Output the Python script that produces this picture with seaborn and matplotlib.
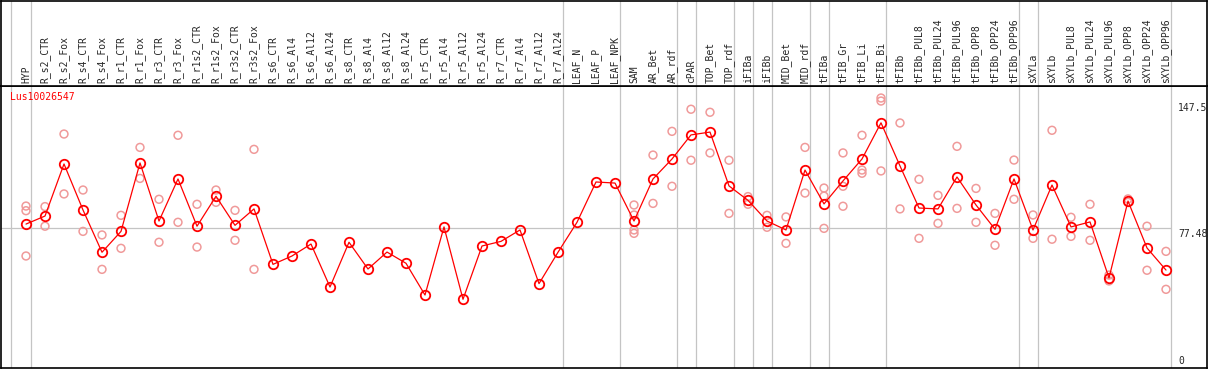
import numpy as np
import pandas as pd
import matplotlib
matplotlib.use("Agg")
import matplotlib.pyplot as plt
import seaborn as sns

gene = "Lus10026547"

categories = [
    "HYP", "R_s2_CTR", "R_s2_Fox", "R_s4_CTR", "R_s4_Fox", "R_r1_CTR", "R_r1_Fox",
    "R_r3_CTR", "R_r3_Fox", "R_r1s2_CTR", "R_r1s2_Fox", "R_r3s2_CTR", "R_r3s2_Fox",
    "R_s6_CTR", "R_s6_Al4", "R_s6_Al12", "R_s6_Al24", "R_s8_CTR", "R_s8_Al4",
    "R_s8_Al12", "R_s8_Al24", "R_r5_CTR", "R_r5_Al4", "R_r5_Al12", "R_r5_Al24",
    "R_r7_CTR", "R_r7_Al4", "R_r7_Al12", "R_r7_Al24", "LEAF_N", "LEAF_P", "LEAF_NPK",
    "SAM", "AR_Bet", "AR_rdf", "cPAR", "TOP_Bet", "TOP_rdf", "iFIBa", "iFIBb",
    "MID_Bet", "MID_rdf", "tFIBa", "tFIB_Gr", "tFIB_Li", "tFIB_Bi", "tFIBb",
    "tFIBb_PUL8", "tFIBb_PUL24", "tFIBb_PUL96", "tFIBb_OPP8", "tFIBb_OPP24",
    "tFIBb_OPP96", "sXYLa", "sXYLb", "sXYLb_PUL8", "sXYLb_PUL24", "sXYLb_PUL96",
    "sXYLb_OPP8", "sXYLb_OPP24", "sXYLb_OPP96",
]

mean_values = [
    79.6, 84.1, 113.3, 87.5, 63.8, 75.5, 113.9, 81.3, 104.9, 78.4, 95.2, 78.9, 88.1,
    57.0, 61.7, 68.4, 44.3, 69.4, 54.4, 63.9, 57.6, 39.8, 78.0, 37.4, 67.3,
    69.9, 76.3, 46.2, 63.8, 80.6, 103.2, 102.6,
    81.3, 104.9, 116.1, 129.6, 131.2, 101.0, 92.9, 81.3, 76.3, 109.9,
    90.9, 103.8, 116.1, 136.4, 112.2, 88.6, 88.1, 106.0, 90.3, 76.7, 104.9,
    76.3, 101.5, 78.0, 80.8, 49.4, 92.5, 66.2, 53.8,
]

replicates = [
    [89.7, 87.1, 61.7], [89.4, 78.4], [130.1, 96.5], [98.7, 75.5], [73.5, 54.2],
    [84.5, 66.0], [122.6, 105.2], [93.5, 69.4], [129.4, 80.6], [90.7, 66.7],
    [98.7, 91.8], [87.3, 70.5], [121.5, 54.2],
    [], [], [], [], [], [], [], [], [], [], [], [], [], [], [], [], [], [], [],
    [90.3, 84.7, 76.3, 74.4], [118.3, 91.2], [131.6, 100.8], [144.0, 115.4],
    [142.3, 119.5], [115.4, 85.6], [95.0, 90.7], [84.5, 77.8], [83.6, 68.8],
    [122.6, 97.0], [99.8, 95.3, 77.2], [119.5, 100.8, 89.6], [129.4, 109.9, 108.1],
    [150.3, 148.6, 109.4], [136.3, 88.1], [104.7, 71.6], [95.7, 80.0], [123.2, 88.4],
    [99.6, 80.6], [85.6, 67.7], [115.5, 93.5],
    [84.7, 71.6], [132.2, 71.1], [83.4, 72.7], [90.7, 70.5], [51.0, 47.7],
    [93.7, 91.8], [78.4, 53.7], [64.3, 43.0],
]

# last sample of each group, a grey separator follows it
group_ends = ["HYP", "R_r7_Al24", "LEAF_NPK", "AR_rdf", "cPAR", "TOP_rdf", "iFIBa",
              "iFIBb", "MID_rdf", "tFIBa", "tFIB_Bi", "tFIBb_OPP96", "sXYLa", "sXYLb_OPP96"]

y_labels = [147.5, 77.48, 0]

df_mean = pd.DataFrame({"pos": np.arange(len(categories)), "value": mean_values})
df_rep = pd.DataFrame(
    [(i, v) for i, vals in enumerate(replicates) for v in vals], columns=["pos", "value"]
)

sns.set_theme(style="white")
plt.rcParams['font.family'] = ['DejaVu Sans Mono']

W, H = 1209, 370
fig = plt.figure(figsize=(W / 100, H / 100), dpi=100)
head_y = 85.7
ax = fig.add_axes([1 / W, (H - 368) / H, 1206 / W, (368 - head_y) / H])
ax_head = fig.add_axes([1 / W, (H - head_y) / H, 1206 / W, (head_y - 0.5) / H], sharex=ax)

xlim = ((1 - 26) / 19, (1207 - 26) / 19)
grey = "#c4c4c4"
light = "#f09a9a"

for a in (ax, ax_head):
    for s in a.spines.values():
        s.set_color("black")
        s.set_linewidth(1.2)
    a.set_xticks([])
    a.set_yticks([])
    a.set_xlabel("")
    a.set_ylabel("")
    a.axvline(-0.8, color=grey, lw=0.9, zorder=0)
    for g in group_ends:
        a.axvline(categories.index(g) + 0.24, color=grey, lw=0.9, zorder=0)

ax.set_xlim(*xlim)
ax.set_ylim(-1.12, 157.2)
ax_head.set_ylim(0, 1)

ax.hlines(77.48, xlim[0], categories.index("sXYLb_OPP96") + 0.24, color=grey, lw=0.9, zorder=0)

sns.scatterplot(data=df_rep, x="pos", y="value", ax=ax, marker="o", s=32,
                color=light, facecolor="none", edgecolor=light, linewidth=1.1, zorder=2)
sns.lineplot(data=df_mean, x="pos", y="value", ax=ax, color="red", linewidth=0.9,
             marker="o", markersize=6.8, markerfacecolor="none", markeredgecolor="red",
             markeredgewidth=1.3, zorder=3)
ax.set_xlabel("")
ax.set_ylabel("")
ax.set_xticks([])
ax.set_yticks([])

for i, cat in enumerate(categories):
    ax_head.text(i, 0.03, cat, rotation=90, ha="center", va="bottom", fontsize=7)

ax.text((10 - 26) / 19, 153.9, gene, color="red", fontsize=7, ha="left", va="top")

lab_x = (1178 - 26) / 19
ax.text(lab_x, y_labels[0], f"{y_labels[0]:g}", fontsize=7, ha="left", va="top")
ax.text(lab_x, y_labels[1] - 0.5, f"{y_labels[1]:g}", fontsize=7, ha="left", va="top")
ax.text(lab_x, y_labels[2], f"{y_labels[2]:g}", fontsize=7, ha="left", va="bottom")

fig.savefig("out.png", dpi=100)
